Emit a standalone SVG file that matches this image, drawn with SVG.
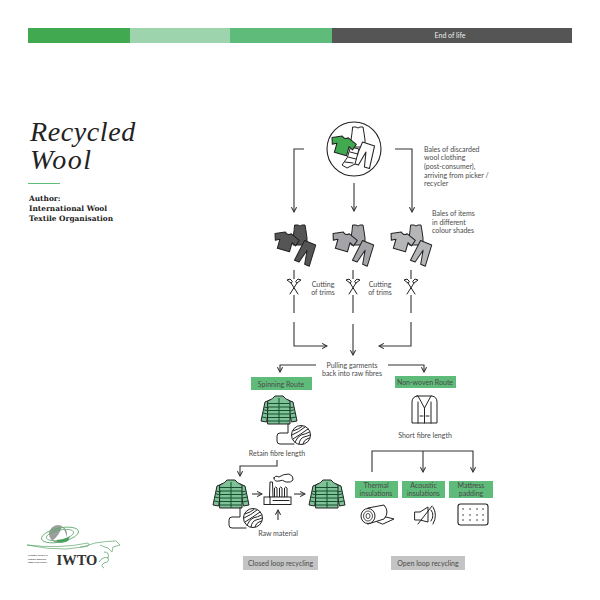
<svg xmlns="http://www.w3.org/2000/svg" xmlns:xlink="http://www.w3.org/1999/xlink" width="600" height="600" viewBox="0 0 600 600">
<style>
text{font-family:"Lato","Liberation Sans",sans-serif;font-size:7px;fill:#4a4a4a}
.m{text-anchor:middle}
.gb{fill:#5fbb79}
.gr{fill:#c4c4c4}
.c{fill:none;stroke:#333;stroke-width:1.1}
.o{stroke:#222;stroke-width:1;stroke-linejoin:round;stroke-linecap:round}
.t{fill:none;stroke:#222;stroke-width:1;stroke-linecap:round;stroke-linejoin:round}
.s{fill:none;stroke:#174f30;stroke-width:1}
.ti{font-family:"Liberation Serif",serif;font-style:italic;font-size:28px;fill:#222}
.au{font-family:"DejaVu Serif",serif;font-weight:bold;font-size:7.400px;fill:#222}
.lg{font-size:2.500px;font-weight:bold;fill:#333}
</style>
<defs>
<marker id="ah" viewBox="0 0 8 8" refX="7" refY="4" markerWidth="6.500" markerHeight="6.500" markerUnits="userSpaceOnUse" orient="auto"><path d="M1 .8L7 4L1 7.200" fill="none" stroke="#333" stroke-width="1.300"/></marker>
<g id="tee"><path class="o" d="M-3-8L-12-4L-10 2L-6 0L-6 9L6 9L6 0L10 2L12-4L3-8Q0-5-3-8Z"/></g>
<g id="tank"><path class="o" d="M-5-11H-2Q0-9 2-11H5L6-5L7 2V9H-7V2L-6-5Z"/></g>
<g id="pants"><path class="o" d="M-6-11L6-11L8 11L3 11L0-3L-3 11L-8 11Z"/></g>
<g id="trio">
<use href="#tank" transform="translate(25 11)"/>
<use href="#pants" transform="translate(31 28) rotate(22)"/>
<use href="#tee" transform="translate(11 16) rotate(16) scale(1.050)"/>
</g>
<g id="scis">
<rect x="-6" y="-8" width="12" height="16" fill="#fff"/>
<path class="t" d="M-4 7L3-4M4 7L-3-4" stroke-width="1.100"/>
<path class="t" d="M3-4L7-7L4-8L2-6ZM-3-4L-7-7L-4-8L-2-6Z" stroke-width="1.100"/>
</g>
<g id="jacket">
<path class="o" d="M-9-10L-14-8L-18 11L-12.500 12L-10 0Z"/>
<path class="o" d="M9-10L14-8L18 11L12.500 12L10 0Z"/>
<path class="o" d="M-11-9Q-6-11-4-14H4Q6-11 11-9L11 14H-11Z"/>
<path class="s" d="M-11-6.500H11M-11-3H11M-11 .5H11M-11 4H11M-11 7.500H11M-11 11H11M-15-3L-10-2M-16-.5L-10.500 1M-16.500 3L-11 4M-17 7L-11.500 8M15-3L10-2M16-.5L10.500 1M16.500 3L11 4M17 7L11.500 8M0-12V14"/>
</g>
<g id="yarn">
<circle r="9.500" fill="#fff" stroke="#222" stroke-width="1"/>
<path class="t" d="M-8-4Q-2-6 1-8.500M-9 0Q-2-3 4-8M-8 4Q0-1 7-6M-6 7Q-3 1 0 0Q5-1 8.500-3M-2 9Q-1 3 3 2Q7 1 9 0M2 9Q3 5 6 4L8.500 3"/>
</g>
</defs>

<g id="header">
<rect x="28" y="28" width="102" height="15" fill="#41a94f"/>
<rect x="130" y="28" width="100" height="15" fill="#9dd4ae"/>
<rect x="230" y="28" width="102" height="15" fill="#5fbb79"/>
<rect x="332" y="28" width="240" height="15" fill="#555"/>
<text x="450" y="38" class="m" style="fill:#eee;font-size:7px">End of life</text>
</g>

<g id="title">
<text x="30" y="141" class="ti" style="letter-spacing:.6px">Recycled</text>
<text x="30" y="169" class="ti" style="letter-spacing:1.500px">Wool</text>
<rect x="28" y="183" width="32" height="1" fill="#5fbb79"/>
<text x="29" y="201" class="au">Author:</text>
<text x="29" y="211" class="au">International Wool</text>
<text x="29" y="221" class="au">Textile Organisation</text>
</g>

<g id="connectors" class="c">
<path class="c" d="M304 149H294V212" marker-end="url(#ah)"/>
<path class="c" d="M354 183V211" marker-end="url(#ah)"/>
<path class="c" d="M395 149H412V212" marker-end="url(#ah)"/>
<path class="c" d="M294 270V313M353 270V313M411 270V313"/>
<path class="c" d="M294 322V346H327" marker-end="url(#ah)"/>
<path class="c" d="M353 324V355" marker-end="url(#ah)"/>
<path class="c" d="M411 322V346H379" marker-end="url(#ah)"/>
<path class="c" d="M316 365H280V372" marker-end="url(#ah)"/>
<path class="c" d="M388 365H424V372" marker-end="url(#ah)"/>
<path class="c" d="M277 460V466H240V476" marker-end="url(#ah)"/>
<path class="c" d="M252 494H262" marker-end="url(#ah)"/>
<path class="c" d="M294 494H305" marker-end="url(#ah)"/>
<path class="c" d="M278 520V510" marker-end="url(#ah)"/>
<path class="c" d="M372 472V451H473V472" marker-end="url(#ah)"/>
<path class="c" d="M423 451V472" marker-end="url(#ah)"/>
</g>

<g id="source">
<circle cx="354" cy="149" r="27" fill="#fff" stroke="#222" stroke-width="1.100"/>
<use href="#tank" transform="translate(358 138)" fill="#fff"/>
<use href="#pants" transform="translate(365 155) rotate(18) scale(1.050)" fill="#fff"/>
<path class="o" fill="#fff" d="M351 147L359 149L355 164L347 168L342 165L347 158Z"/>
<path class="t" d="M350 152L358 154M348 157L356 159M345 162L353 163"/>
<use href="#tee" transform="translate(343 145) rotate(16) scale(1.050)" fill="#41a94f"/>
<text x="424" y="151.500">Bales of discarded</text>
<text x="424" y="160">wool clothing</text>
<text x="424" y="169">(post-consumer),</text>
<text x="424" y="177.500">arriving from picker /</text>
<text x="424" y="186">recycler</text>
</g>

<g id="bale-dark"><use href="#trio" transform="translate(275 225)" fill="#555"/></g>
<g id="bale-mid"><use href="#trio" transform="translate(333 225)" fill="#a3a3a8"/></g>
<g id="bale-light"><use href="#trio" transform="translate(391 225)" fill="#b4b6b8"/></g>
<g id="bale-label">
<text x="432" y="216">Bales of items</text>
<text x="432" y="225">in different</text>
<text x="432" y="233">colour shades</text>
</g>

<g id="cut-1"><use href="#scis" transform="translate(294 287)"/></g>
<g id="cut-2"><use href="#scis" transform="translate(353 287)"/></g>
<g id="cut-3"><use href="#scis" transform="translate(411 287)"/></g>
<g id="cut-labels">
<text x="323" y="286.500" class="m">Cutting</text><text x="323" y="295" class="m">of trims</text>
<text x="380" y="286.500" class="m">Cutting</text><text x="380" y="295" class="m">of trims</text>
</g>

<g id="pulling"><text x="352" y="368" class="m">Pulling garments</text><text x="352" y="376" class="m">back into raw fibres</text></g>

<g id="spinning"><rect x="251" y="377" width="61" height="13" class="gb"/><text x="281" y="386.500" class="m">Spinning Route</text></g>
<g id="nonwoven"><rect x="395" y="376" width="61" height="12" class="gb"/><text x="425" y="384.500" class="m">Non-woven Route</text></g>

<g id="spin-jacket">
<use href="#jacket" transform="translate(279 410)" fill="#7fc297"/>
<path class="t" d="M288 424V433H280Q277 433 277 436V441Q277 444 280 444H294"/>
<use href="#yarn" transform="translate(301 435)"/>
<text x="277" y="456" class="m">Retain fibre length</text>
</g>
<g id="nw-jacket">
<path class="o" fill="#fff" d="M417 396H432Q437 397 437 402V423H412V402Q412 397 417 396Z"/>
<path class="t" d="M418 396L424.500 408L431 396M424.500 408V423M418 402V423M431 402V423M420 416H423M426 416H429"/>
<text x="425" y="438" class="m">Short fibre length</text>
</g>

<g id="closed-jacket-1">
<use href="#jacket" transform="translate(231 494)" fill="#7fc297"/>
<path class="t" d="M240 508V517H232Q229 517 229 520V525Q229 528 232 528H246"/>
<use href="#yarn" transform="translate(253 518)"/>
</g>
<g id="factory">
<path class="o" fill="#fff" d="M269.500 497L270 482H272.500L273 497Z"/>
<path class="o" fill="#fff" d="M274.500 497V488Q275.500 486 277 488V497ZM279.500 497V488Q280.500 486 282 488V497ZM284.500 497V488Q285.500 486 287 488V497Z"/>
<rect x="264" y="497" width="27" height="7.500" fill="#fff" stroke="#222"/>
<path class="t" d="M270 497V504.500M273 500.500H289"/>
<path class="t" d="M274 478Q275 475 279 477Q283 474 289 474Q294 476 293 480Q291 483 286 482Q282 479 279 481Q274 482 274 478Z"/>
<text x="278" y="535.500" class="m">Raw material</text>
</g>
<g id="closed-jacket-2"><use href="#jacket" transform="translate(327 494)" fill="#7fc297"/></g>

<g id="thermal">
<rect x="355" y="481" width="43" height="17" class="gb"/>
<text x="376" y="487.500" class="m">Thermal</text><text x="376" y="495.500" class="m">insulations</text>
<path class="o" fill="#fff" d="M376 521L386 517L394 519L383 524Z"/>
<path class="o" fill="#fff" d="M368 508L384 505Q390 512 384 519L368 524Z"/>
<ellipse cx="368" cy="516" rx="7" ry="7.500" fill="#fff" stroke="#222"/>
<ellipse cx="368" cy="516" rx="4.500" ry="5" fill="none" stroke="#222" stroke-width=".8"/>
<ellipse cx="368" cy="516" rx="2" ry="2.500" fill="none" stroke="#222" stroke-width=".8"/>
</g>
<g id="acoustic">
<rect x="402" y="481" width="43" height="17" class="gb"/>
<text x="423.500" y="487.500" class="m">Acoustic</text><text x="423.500" y="495.500" class="m">insulations</text>
<path class="t" d="M415 512H420L428 507V522L420 520H415ZM418 524L432 506"/>
<path class="t" d="M431 510Q435 515 431 521M433 507Q438 515 433 524"/>
</g>
<g id="mattress">
<rect x="449" y="481" width="44" height="17" class="gb"/>
<text x="471" y="487.500" class="m">Mattress</text><text x="471" y="495.500" class="m">padding</text>
<rect x="458" y="504" width="30" height="21" rx="2.500" fill="#fff" stroke="#222" stroke-width="1.100"/>
<path d="M463 509h.1M470 509h.1M477 509h.1M483 509h.1M463 515h.1M470 515h.1M477 515h.1M483 515h.1M463 520h.1M470 520h.1M477 520h.1M483 520h.1" stroke="#222" stroke-width="1.400" stroke-linecap="round" fill="none"/>
</g>

<g id="closed-loop"><rect x="243" y="556" width="75" height="14" class="gr"/><text x="280.500" y="565.500" class="m">Closed loop recycling</text></g>
<g id="open-loop"><rect x="391" y="556" width="74" height="14" class="gr"/><text x="428" y="565.500" class="m">Open loop recycling</text></g>

<g id="logo">
<path d="M27 545Q60 549 88 543Q92 547 80 547M27 545Q70 554 95 543Q108 541 116 541L120 545L113 547L112 552L108 548Q104 547 100 545" fill="none" stroke="#5aa56a" stroke-width=".7"/>
<circle cx="58" cy="534" r="9" fill="#9a9f9c"/>
<path d="M52 541Q60 535 62 526Q68 535 66 541Z" fill="#fff"/>
<path d="M56 540Q65 540 70 536L68 541Q60 545 56 540Z" fill="#3f9a52"/>
<ellipse cx="60" cy="535" rx="19" ry="7" fill="none" stroke="#5aa56a" stroke-width=".8" transform="rotate(-12 60 535)"/>
<ellipse cx="60" cy="535" rx="14" ry="5" fill="none" stroke="#5aa56a" stroke-width=".7" transform="rotate(-12 60 535)"/>
<text x="28" y="556" class="lg">INTERNATIONAL</text>
<text x="28" y="559.500" class="lg">WOOL TEXTILE</text>
<text x="28" y="563" class="lg">ORGANISATION</text>
<text x="56.500" y="564.500" style="font-family:'Liberation Serif',serif;font-weight:bold;font-size:14.500px;fill:#333">IWTO</text>
<path d="M99 562Q103 556 108 558Q110 562 104 563Q100 566 104 568M104 552Q110 552 108 558" fill="none" stroke="#5aa56a" stroke-width=".8"/>
</g>
</svg>
